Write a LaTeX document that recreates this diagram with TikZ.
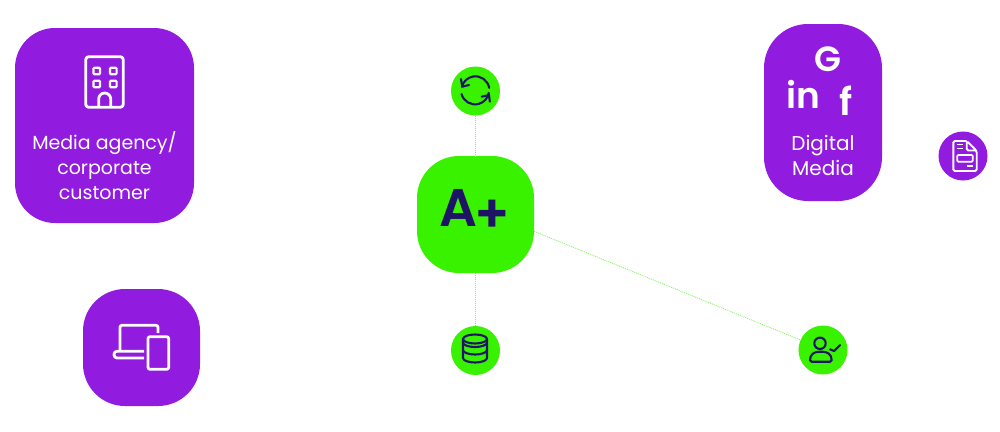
\documentclass[tikz,border=0pt]{standalone}
\usepackage{fontspec}
\setmainfont{Poppins}
\newfontfamily\brandfont{Poppins SemiBold}
\definecolor{purp}{HTML}{911BDE}
\definecolor{lime}{HTML}{39F200}
\definecolor{navy}{HTML}{1E1466}
\definecolor{linkgreen}{HTML}{7CF25A}
\tikzset{
 purpbox/.style={fill=purp, rounded corners=#1, inner sep=0},
 limebox/.style={fill=lime, rounded corners=#1, inner sep=0},
 dot/.style={circle, fill=#1, minimum size=49pt, inner sep=0},
 lab/.style={white, align=center, font=\fontsize{#1}{25}\selectfont, inner sep=0},
 logo/.style={white, font=\fontsize{#1}{#1}\selectfont\brandfont, inner sep=0},
 link/.style={linkgreen, line width=.8pt, dash pattern=on 1pt off 1pt},
 whiteic/.style={white, line width=2.8pt, line join=round},
 navyic/.style={navy, line width=2.1pt, line cap=round, line join=round}
}
\begin{document}
\begin{tikzpicture}[x=1pt, y=-1pt]
\useasboundingbox (0,0) rectangle (1000,431);
\node[purpbox=40pt, minimum width=179pt, minimum height=195pt] (agency) at (104.5,125.5) {};
\node[purpbox=42pt, minimum width=117pt, minimum height=117pt] (devices) at (141.5,347.5) {};
\node[purpbox=44pt, minimum width=118pt, minimum height=177pt] (digital) at (823,112.5) {};
\node[limebox=42pt, minimum width=117pt, minimum height=117pt] (aplus) at (475.5,214.5) {};
\node[dot=lime] (sync) at (475.5,91) {};
\node[dot=lime] (db) at (475.5,350.5) {};
\node[dot=lime] (usr) at (823,350) {};
\node[dot=purp] (doc) at (963,156) {};
\draw[link] (sync) -- (aplus);
\draw[link] (aplus) -- (db);
\draw[link] (aplus.-16.5) -- (usr.156.5);
\node[lab=19] (agencytext) at (104.5,166) {Media agency/\\corporate\\customer};
\node[lab=20] (digitaltext) at (823,155.5) {Digital\\Media};
\node[navy, font=\fontsize{53}{53}\selectfont\brandfont, inner sep=0] (aplustext) at (475,211) {A\kern-3pt\raisebox{-6pt}{+}};
\node[logo=35] (google) at (827.7,59) {G};
\node[logo=36] (linkedin) at (803,94) {in};
\node[logo=38] (facebook) at (846,101) {f};
% building
\draw[whiteic, rounded corners=3pt] (85.7,56.7) rectangle (123.3,107.3);
\foreach \x in {96.7,113.3} {
 \foreach \y in {71,84} {
  \draw[white, line width=2.2pt, rounded corners=1pt] (\x-3.3,\y-3.3) rectangle (\x+3.3,\y+3.3);
 }
}
\draw[whiteic] (98.7,107) -- (98.7,99) arc[start angle=180, end angle=0, radius=6pt] -- (110.7,107);
% laptop and phone
\draw[whiteic, rounded corners=2pt] (120,351) -- (120,325.3) -- (158,325.3) -- (158,333);
\draw[whiteic, rounded corners=3pt] (144,351.3) -- (114,351.3) -- (114,358) -- (144,358);
\draw[whiteic, rounded corners=2pt] (148,336.7) rectangle (168.7,369.3);
% sync
\draw[navyic] (489.2,87.9) arc[start angle=10, end angle=165, radius=14pt];
\draw[navyic] (461,79) -- (462.3,86.7) -- (469,85);
\draw[navyic] (461.5,94) arc[start angle=195, end angle=350, radius=14pt];
\draw[navyic] (481.7,96.7) -- (489,95) -- (489.8,101.7);
% database
\draw[navyic] (475,339) ellipse[x radius=12pt, y radius=4.5pt];
\draw[navyic] (463,339) -- (463,358) arc[start angle=180, end angle=360, x radius=12pt, y radius=4.5pt] -- (487,339);
\foreach \y in {342.5,350} {
 \draw[navyic] (463,\y) arc[start angle=180, end angle=360, x radius=12pt, y radius=4.5pt];
}
% user
\draw[navyic] (820,343.3) circle (5.7);
\draw[navyic, rounded corners=1.5pt] (810,361.7) -- (831.7,361.7) .. controls (831.7,354) and (827,351.7) .. (820.8,351.7) .. controls (814.5,351.7) and (810,354) .. cycle;
\draw[navyic] (830,349.3) -- (834,351) -- (840,345);
% document
\draw[white, line width=1.9pt, line join=round, rounded corners=1.5pt] (966.7,141) -- (953.3,141) -- (953.3,171) -- (976.7,171) -- (976.7,151) -- (966.7,141) -- (966.7,150.5) -- (976.7,150.5);
\foreach \y in {144.6,148.4} {
 \draw[white, line width=1.5pt] (956.7,\y) -- (962.7,\y);
}
\draw[white, line width=1.7pt, rounded corners=1pt] (957.3,155) rectangle (972.7,161.7);
\draw[white, line width=1.5pt] (966.7,166) -- (972.7,166);
\end{tikzpicture}
\end{document}
